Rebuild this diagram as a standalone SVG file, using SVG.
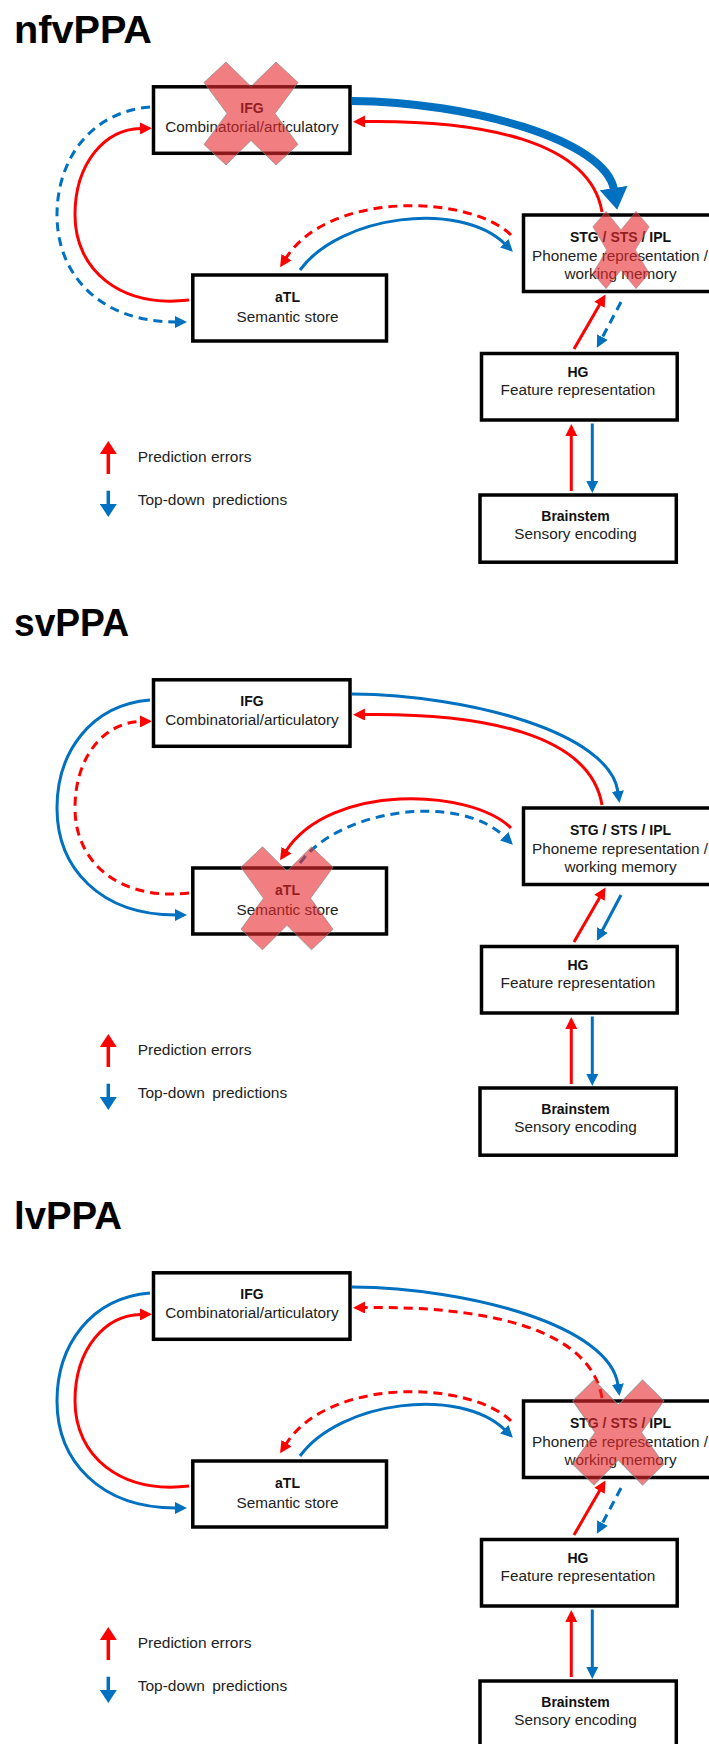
<svg xmlns="http://www.w3.org/2000/svg" width="709" height="1744" viewBox="0 0 709 1744">
<style>
.box{fill:#fff;stroke:#000;stroke-width:3.5}
.t{font-family:"Liberation Sans",Arial,sans-serif;font-size:15.3px;fill:#222;text-anchor:middle}
.tb{font-family:"Liberation Sans",Arial,sans-serif;font-size:14px;font-weight:bold;fill:#111;text-anchor:middle}
.title{font-family:"Liberation Sans",Arial,sans-serif;font-size:38px;font-weight:bold;fill:#000}
.lt{font-family:"Liberation Sans",Arial,sans-serif;font-size:15.5px;fill:#222}
.r{fill:none;stroke:#ff0000;stroke-width:3}
.b{fill:none;stroke:#0070c0;stroke-width:3}
.d{stroke-dasharray:9 6}
.thick{fill:none;stroke:#0070c0;stroke-width:8}
.x{fill:#e8282b;fill-opacity:0.6;stroke:#8a8a8a;stroke-opacity:0.7;stroke-width:1}
</style>
<defs>
<marker id="mr" markerUnits="userSpaceOnUse" viewBox="0 0 12 12" markerWidth="12" markerHeight="12" refX="1" refY="6" orient="auto"><path d="M0,0 L12,6 L0,12 z" fill="#ff0000"/></marker>
<marker id="mb" markerUnits="userSpaceOnUse" viewBox="0 0 12 12" markerWidth="12" markerHeight="12" refX="1" refY="6" orient="auto"><path d="M0,0 L12,6 L0,12 z" fill="#0070c0"/></marker>
<marker id="mbt" markerUnits="userSpaceOnUse" viewBox="0 0 22 28" markerWidth="22" markerHeight="28" refX="2" refY="14" orient="auto"><path d="M0,0 L22,14 L0,28 z" fill="#0070c0"/></marker>
<marker id="mrl" markerUnits="userSpaceOnUse" viewBox="0 0 13 17" markerWidth="13" markerHeight="17" refX="1" refY="8.5" orient="auto"><path d="M0,0 L13,8.5 L0,17 z" fill="#ff0000"/></marker>
<marker id="mbl" markerUnits="userSpaceOnUse" viewBox="0 0 13 17" markerWidth="13" markerHeight="17" refX="1" refY="8.5" orient="auto"><path d="M0,0 L13,8.5 L0,17 z" fill="#0070c0"/></marker>
<polygon id="xc" points="-47,-31 -25,-51.5 0,-27 25,-51.5 47,-31 24,0 47,31 25,51.5 0,27 -25,51.5 -47,31 -24,0"/>
</defs>

<!-- Panel 1: nfvPPA -->
<g id="panel-nfvPPA">
<text class="title" x="14" y="43.3" textLength="138" lengthAdjust="spacingAndGlyphs">nfvPPA</text>
<g id="p1-ifg"><rect class="box" x="153.5" y="86.8" width="196.5" height="66.5"/><text class="tb" x="252" y="113">IFG</text><text class="t" x="252" y="131.5">Combinatorial/articulatory</text></g>
<g id="p1-stg"><rect class="box" x="523.5" y="215" width="200" height="76.5"/><text class="tb" x="620.5" y="241.5">STG / STS / IPL</text><text class="t" x="620" y="260.5">Phoneme representation /</text><text class="t" x="620.5" y="278.5">working memory</text></g>
<g id="p1-atl"><rect class="box" x="192.8" y="275" width="193.7" height="66"/><text class="tb" x="287.5" y="301.5">aTL</text><text class="t" x="287.5" y="321.5">Semantic store</text></g>
<g id="p1-hg"><rect class="box" x="481.5" y="353.5" width="195.7" height="66.5"/><text class="tb" x="578" y="376.5">HG</text><text class="t" x="578" y="395">Feature representation</text></g>
<g id="p1-brainstem"><rect class="box" x="480" y="495" width="196.3" height="67.2"/><text class="tb" x="575.5" y="520.5">Brainstem</text><text class="t" x="575.5" y="539.3">Sensory encoding</text></g>
<g id="p1-connectors">
<path class="thick" d="M352,101 C470,102 606,140 614,190" marker-end="url(#mbt)"/>
<path class="r" d="M602,212 C590,140 480,120 364,121.5" marker-end="url(#mr)"/>
<path class="r d" d="M511,235 C470,195 330,190 286,258" marker-end="url(#mr)"/>
<path class="b" d="M300,270 C340,215 460,200 505,244" marker-end="url(#mb)"/>
<path class="r" d="M189,300 C120,308 75,270 75,215 C75,163 105,129 141,128.5" marker-end="url(#mr)"/>
<path class="b d" d="M150,107 C90,112 57,160 57,215 C57,275 100,322 176,322" marker-end="url(#mb)"/>
<path class="r" d="M574,349 L600,304" marker-end="url(#mr)"/>
<path class="b d" d="M621,302 L602,338" marker-end="url(#mb)"/>
<path class="r" d="M571.3,491 L571.3,435" marker-end="url(#mr)"/>
<path class="b" d="M592.3,423.5 L592.3,482" marker-end="url(#mb)"/>
</g>
<g id="p1-legend">
<path class="r" style="stroke-width:3.5" d="M108.3,474 L108.3,453" marker-end="url(#mrl)"/>
<path class="b" style="stroke-width:3.5" d="M108.3,490.7 L108.3,505" marker-end="url(#mbl)"/>
<text class="lt" x="137.7" y="461.7">Prediction errors</text>
<text class="lt" x="137.7" y="505" word-spacing="3">Top-down predictions</text>
</g>
</g>

<!-- Panel 2: svPPA -->
<g id="panel-svPPA" transform="translate(0,593)">
<text class="title" x="14" y="43.3" textLength="115" lengthAdjust="spacingAndGlyphs">svPPA</text>
<g id="p2-ifg"><rect class="box" x="153.5" y="86.8" width="196.5" height="66.5"/><text class="tb" x="252" y="113">IFG</text><text class="t" x="252" y="131.5">Combinatorial/articulatory</text></g>
<g id="p2-stg"><rect class="box" x="523.5" y="215" width="200" height="76.5"/><text class="tb" x="620.5" y="241.5">STG / STS / IPL</text><text class="t" x="620" y="260.5">Phoneme representation /</text><text class="t" x="620.5" y="278.5">working memory</text></g>
<g id="p2-atl"><rect class="box" x="192.8" y="275" width="193.7" height="66"/><text class="tb" x="287.5" y="301.5">aTL</text><text class="t" x="287.5" y="321.5">Semantic store</text></g>
<g id="p2-hg"><rect class="box" x="481.5" y="353.5" width="195.7" height="66.5"/><text class="tb" x="578" y="376.5">HG</text><text class="t" x="578" y="395">Feature representation</text></g>
<g id="p2-brainstem"><rect class="box" x="480" y="495" width="196.3" height="67.2"/><text class="tb" x="575.5" y="520.5">Brainstem</text><text class="t" x="575.5" y="539.3">Sensory encoding</text></g>
<g id="p2-connectors">
<path class="b" d="M352,101 C470,102 610,140 618,199" marker-end="url(#mb)"/>
<path class="r" d="M602,212 C590,140 480,120 364,121.5" marker-end="url(#mr)"/>
<path class="r" d="M511,235 C470,195 330,190 286,258" marker-end="url(#mr)"/>
<path class="b d" d="M300,270 C340,215 460,200 505,244" marker-end="url(#mb)"/>
<path class="r d" d="M189,300 C120,308 75,270 75,215 C75,163 105,129 141,128.5" marker-end="url(#mr)"/>
<path class="b" d="M150,107 C90,112 57,160 57,215 C57,275 100,322 176,322" marker-end="url(#mb)"/>
<path class="r" d="M574,349 L600,304" marker-end="url(#mr)"/>
<path class="b" d="M621,302 L602,338" marker-end="url(#mb)"/>
<path class="r" d="M571.3,491 L571.3,435" marker-end="url(#mr)"/>
<path class="b" d="M592.3,423.5 L592.3,482" marker-end="url(#mb)"/>
</g>
<g id="p2-legend">
<path class="r" style="stroke-width:3.5" d="M108.3,474 L108.3,453" marker-end="url(#mrl)"/>
<path class="b" style="stroke-width:3.5" d="M108.3,490.7 L108.3,505" marker-end="url(#mbl)"/>
<text class="lt" x="137.7" y="461.7">Prediction errors</text>
<text class="lt" x="137.7" y="505" word-spacing="3">Top-down predictions</text>
</g>
</g>

<!-- Panel 3: lvPPA -->
<g id="panel-lvPPA" transform="translate(0,1186)">
<text class="title" x="14" y="43.3" textLength="108" lengthAdjust="spacingAndGlyphs">lvPPA</text>
<g id="p3-ifg"><rect class="box" x="153.5" y="86.8" width="196.5" height="66.5"/><text class="tb" x="252" y="113">IFG</text><text class="t" x="252" y="131.5">Combinatorial/articulatory</text></g>
<g id="p3-stg"><rect class="box" x="523.5" y="215" width="200" height="76.5"/><text class="tb" x="620.5" y="241.5">STG / STS / IPL</text><text class="t" x="620" y="260.5">Phoneme representation /</text><text class="t" x="620.5" y="278.5">working memory</text></g>
<g id="p3-atl"><rect class="box" x="192.8" y="275" width="193.7" height="66"/><text class="tb" x="287.5" y="301.5">aTL</text><text class="t" x="287.5" y="321.5">Semantic store</text></g>
<g id="p3-hg"><rect class="box" x="481.5" y="353.5" width="195.7" height="66.5"/><text class="tb" x="578" y="376.5">HG</text><text class="t" x="578" y="395">Feature representation</text></g>
<g id="p3-brainstem"><rect class="box" x="480" y="495" width="196.3" height="67.2"/><text class="tb" x="575.5" y="520.5">Brainstem</text><text class="t" x="575.5" y="539.3">Sensory encoding</text></g>
<g id="p3-connectors">
<path class="b" d="M352,101 C470,102 610,140 618,199" marker-end="url(#mb)"/>
<path class="r d" d="M602,212 C590,140 480,120 364,121.5" marker-end="url(#mr)"/>
<path class="r d" d="M511,235 C470,195 330,190 286,258" marker-end="url(#mr)"/>
<path class="b" d="M300,270 C340,215 460,200 505,244" marker-end="url(#mb)"/>
<path class="r" d="M189,300 C120,308 75,270 75,215 C75,163 105,129 141,128.5" marker-end="url(#mr)"/>
<path class="b" d="M150,107 C90,112 57,160 57,215 C57,275 100,322 176,322" marker-end="url(#mb)"/>
<path class="r" d="M574,349 L600,304" marker-end="url(#mr)"/>
<path class="b d" d="M621,302 L602,338" marker-end="url(#mb)"/>
<path class="r" d="M571.3,491 L571.3,435" marker-end="url(#mr)"/>
<path class="b" d="M592.3,423.5 L592.3,482" marker-end="url(#mb)"/>
</g>
<g id="p3-legend">
<path class="r" style="stroke-width:3.5" d="M108.3,474 L108.3,453" marker-end="url(#mrl)"/>
<path class="b" style="stroke-width:3.5" d="M108.3,490.7 L108.3,505" marker-end="url(#mbl)"/>
<text class="lt" x="137.7" y="461.7">Prediction errors</text>
<text class="lt" x="137.7" y="505" word-spacing="3">Top-down predictions</text>
</g>
</g>

<!-- Lesion crosses -->
<g id="crosses">
<use href="#xc" class="x" transform="translate(251,113.5)"/>
<use href="#xc" class="x" transform="translate(621,250) scale(0.6,0.75)"/>
<use href="#xc" class="x" transform="translate(287,898.3) scale(0.98,1)"/>
<use href="#xc" class="x" transform="translate(618.3,1432.5) scale(0.97,1.02)"/>
</g>
</svg>
